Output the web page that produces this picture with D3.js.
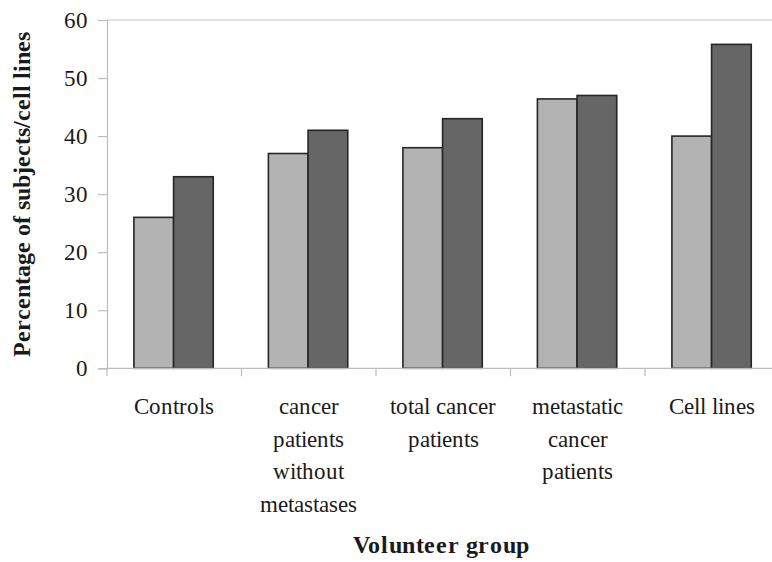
<!DOCTYPE html>
<html>
<head>
<meta charset="utf-8">
<script src="https://cdn.jsdelivr.net/npm/d3@7/dist/d3.min.js"></script>
<style>
  @font-face {
    font-family: "RefSerif";
    font-weight: 400;
    src: local("Liberation Serif"), local("LiberationSerif"), local("Liberation Serif Regular"), local("Tinos"), local("Tinos Regular"), local("Times New Roman");
  }
  @font-face {
    font-family: "RefSerif";
    font-weight: 700;
    src: local("Liberation Serif Bold"), local("LiberationSerif-Bold"), local("Tinos Bold"), local("Times New Roman Bold");
  }
  html, body { margin: 0; padding: 0; background: #fff; }
  svg { display: block; }
</style>
</head>
<body>
<svg id="chart" width="772" height="562"></svg>
<script>
// ---- data ----
const categories = [
  ["Controls"],
  ["cancer", "patients", "without", "metastases"],
  ["total cancer", "patients"],
  ["metastatic", "cancer", "patients"],
  ["Cell lines"]
];
const categoryKeys = ["Controls", "cancer patients without metastases", "total cancer patients", "metastatic cancer patients", "Cell lines"];
const seriesNames = ["Series 1", "Series 2"];
const series1 = [26, 37, 38, 46.4, 40];
const series2 = [33, 41, 43, 47, 55.8];
const yTicks = [0, 10, 20, 30, 40, 50, 60];
const yTitle = "Percentage of subjects/cell lines";
const xTitle = "Volunteer group";
const seriesColors = ["#b3b3b3", "#666666"];

const FONT = 'RefSerif, "Liberation Serif", "Times New Roman", Tinos, serif';
const TXT = "#1a1a1a";

// ---- layout ----
const svg = d3.select("#chart");
const pLeft = 107, pRight = 779.5, pTop = 20, pBottom = 368.3;

const x0 = d3.scaleBand().domain(categoryKeys).range([pLeft, pRight]).paddingInner(0).paddingOuter(0);
const step = x0.bandwidth();
const x1 = d3.scaleBand().domain(seriesNames).range([step * 0.2, step * 0.79]).padding(0);
const y = d3.scaleLinear().domain([0, 60]).range([pBottom, pTop]);

// top line (gridline at 60)
svg.append("line")
  .attr("x1", pLeft).attr("x2", 772)
  .attr("y1", y(60)).attr("y2", y(60))
  .attr("stroke", "#d9d9d9").attr("stroke-width", 1.5);

// bars
const data = categoryKeys.map((c, i) => ({ cat: c, vals: [series1[i], series2[i]] }));
const groups = svg.append("g").selectAll("g").data(data).join("g")
  .attr("transform", d => `translate(${x0(d.cat)},0)`);
groups.selectAll("rect")
  .data(d => d.vals.map((v, j) => ({ name: seriesNames[j], v, j })))
  .join("rect")
  .attr("x", d => x1(d.name))
  .attr("width", x1.bandwidth())
  .attr("y", d => y(d.v))
  .attr("height", d => y(0) - y(d.v))
  .attr("fill", d => seriesColors[d.j])
  .attr("stroke", "#262626")
  .attr("stroke-width", 1.6);

// y axis
const yAxis = d3.axisLeft(y).tickValues(yTicks).tickSize(9).tickPadding(10).tickFormat(d3.format("d"));
const gy = svg.append("g").attr("transform", `translate(${pLeft},0)`).call(yAxis)
  .attr("font-family", null).attr("font-size", null);
gy.select(".domain").attr("stroke", "#bdbdbd").attr("stroke-width", 1.2);
gy.selectAll(".tick line").attr("stroke", "#bdbdbd").attr("stroke-width", 1.2);
gy.selectAll(".tick text")
  .style("font-family", FONT).style("font-size", "23px").style("fill", TXT);

// x axis (ticks at band boundaries)
const gx = svg.append("g").attr("transform", `translate(0,${pBottom})`);
gx.append("line").attr("x1", pLeft).attr("x2", 772).attr("y1", 0).attr("y2", 0)
  .attr("stroke", "#bdbdbd").attr("stroke-width", 1.2);
const boundaries = categoryKeys.map(c => x0(c)).concat([x0(categoryKeys[categoryKeys.length - 1]) + step]);
gx.selectAll("line.tk").data(boundaries).join("line").attr("class", "tk")
  .attr("x1", d => d).attr("x2", d => d).attr("y1", 0).attr("y2", 8)
  .attr("stroke", "#bdbdbd").attr("stroke-width", 1.2);

// category labels
categoryKeys.forEach((c, i) => {
  categories[i].forEach((line, k) => {
    svg.append("text")
      .attr("x", x0(c) + step / 2)
      .attr("y", pBottom + 46 + k * 32.5)
      .style("text-anchor", "middle")
      .style("font-family", FONT).style("font-size", "23px").style("fill", TXT)
      .text(line);
  });
});

// axis titles
svg.append("text")
  .attr("x", (pLeft + pRight) / 2 - 2).attr("y", 553)
  .style("text-anchor", "middle")
  .style("font-family", FONT).style("font-size", "24px").style("font-weight", "bold")
  .style("letter-spacing", "0.6px").style("fill", TXT)
  .text(xTitle);

svg.append("text")
  .attr("transform", `translate(30,194) rotate(-90)`)
  .style("text-anchor", "middle")
  .style("font-family", FONT).style("font-size", "24px").style("font-weight", "bold")
  .style("fill", TXT)
  .text(yTitle);
</script>
</body>
</html>
